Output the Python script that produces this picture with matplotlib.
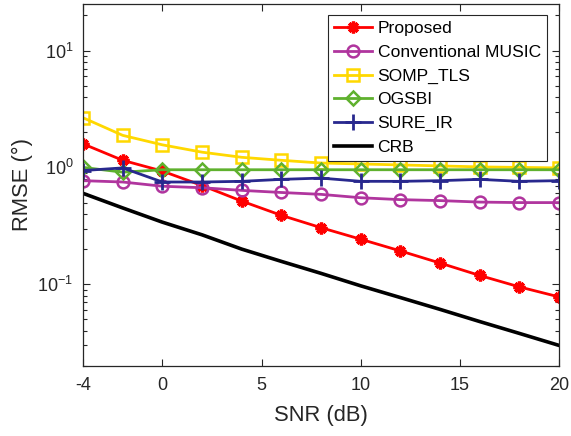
import matplotlib
matplotlib.use("Agg")
import matplotlib.pyplot as plt
from matplotlib.ticker import LogLocator, FixedLocator

plt.rcParams['font.family'] = ['Liberation Sans', 'DejaVu Sans']
plt.rcParams['mathtext.default'] = 'regular'
plt.rcParams['axes.unicode_minus'] = False

# RMSE versus SNR for each estimator
snr = [-4, -2, 0, 2, 4, 6, 8, 10, 12, 14, 16, 18, 20]
proposed = [1.59, 1.15, 0.93, 0.70, 0.515, 0.389, 0.305, 0.243, 0.193, 0.152, 0.119, 0.095, 0.078]
music = [0.77, 0.75, 0.69, 0.67, 0.636, 0.61, 0.588, 0.55, 0.53, 0.52, 0.505, 0.50, 0.50]
somp_tls = [2.66, 1.88, 1.56, 1.35, 1.22, 1.15, 1.09, 1.07, 1.05, 1.03, 1.01, 1.0, 0.99]
ogsbi = [1.0, 0.91, 0.955, 0.955, 0.955, 0.955, 0.955, 0.955, 0.955, 0.955, 0.955, 0.955, 0.955]
sure_ir = [0.94, 0.99, 0.75, 0.75, 0.76, 0.79, 0.81, 0.76, 0.76, 0.77, 0.79, 0.76, 0.77]
crb = [0.60, 0.45, 0.34, 0.265, 0.20, 0.157, 0.124, 0.097, 0.077, 0.061, 0.048, 0.038, 0.030]

labels = ['Proposed', 'Conventional MUSIC', 'SOMP_TLS', 'OGSBI', 'SURE_IR', 'CRB']
xticks = [-4, 0, 5, 10, 15, 20]

dark = '#262626'
fig = plt.figure(figsize=(5.71, 4.36), dpi=100)
ax = fig.add_axes([0.1454, 0.1606, 0.979 - 0.1454, 0.9908 - 0.1606])

lw = 2.0
ax.plot(snr, proposed, color='#ff0000', lw=lw, marker=(8, 2, 0), ms=8.5, mew=2.4,
        label=labels[0])
ax.plot(snr, music, color='#b0359e', lw=lw, marker='o', ms=8.5, mew=1.8,
        mfc='none', label=labels[1])
ax.plot(snr, somp_tls, color='#ffd800', lw=lw, marker='s', ms=8, mew=1.8,
        mfc='none', label=labels[2])
ax.plot(snr, ogsbi, color='#5fb12e', lw=lw, marker='D', ms=7.5, mew=1.8,
        mfc='none', label=labels[3])
ax.plot(snr, sure_ir, color='#28288e', lw=lw, marker='+', ms=12, mew=2.0,
        label=labels[4])
ax.plot(snr, crb, color='black', lw=2.6, label=labels[5])

ax.set_yscale('log')
ax.set_xlim(-4, 20)
ax.set_ylim(0.02, 25)
ax.xaxis.set_major_locator(FixedLocator(xticks))
ax.yaxis.set_major_locator(LogLocator(base=10, numticks=10))
ax.yaxis.set_minor_locator(LogLocator(base=10, subs=range(2, 10), numticks=10))

ax.tick_params(which='both', direction='in', top=True, right=True,
               colors=dark, labelsize=13, width=0.8)
ax.tick_params(which='major', length=5)
ax.tick_params(which='minor', length=3)
ax.tick_params(axis='x', pad=8)
ax.tick_params(axis='y', pad=7)
for s in ax.spines.values():
    s.set_color(dark)
    s.set_linewidth(0.9)

ax.set_xlabel('SNR (dB)', fontsize=15.8, color=dark, labelpad=8)
ax.set_ylabel('RMSE (°)', fontsize=15.8, color=dark, labelpad=3)

leg = ax.legend(loc='upper right', bbox_to_anchor=(547 / 571, 1 - 15 / 436),
                bbox_transform=fig.transFigure, fontsize=12.6, fancybox=False,
                edgecolor=dark, framealpha=1, borderaxespad=0,
                handlelength=2.2, handletextpad=0.3, labelspacing=0.48,
                borderpad=0.35)
leg.get_frame().set_linewidth(0.8)

fig.savefig('out.png', dpi=100)
